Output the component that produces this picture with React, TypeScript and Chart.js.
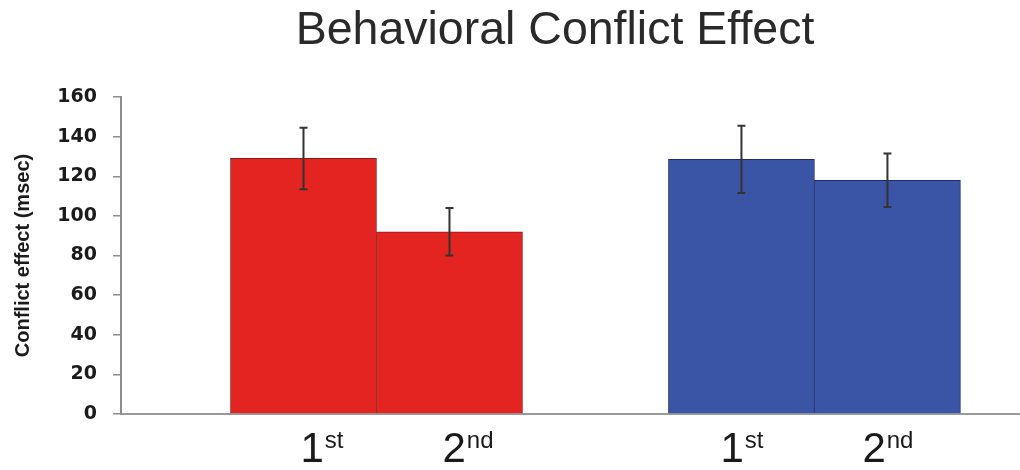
import React, { useEffect, useRef } from 'react';
import { Chart, registerables } from 'chart.js';

Chart.register(...registerables);

const chartTitle = 'Behavioral Conflict Effect';
const yAxisTitle = 'Conflict effect (msec)';
// slot of each bar along the x axis (two groups of two bars, one empty slot between)
const barSlots = [1, 2, 4, 5];
const labelMain = ['1', '2', '1', '2'];
const labelSup = ['st', 'nd', 'st', 'nd'];
const conflictValues = [129, 92, 128.5, 118];
const errorValues = [15.5, 12, 17, 13.5];
const yMin = 0;
const yMax = 160;
const yStep = 20;

const barFill = ['#E42421', '#E42421', '#3A55A5', '#3A55A5'];
const barEdge = ['#8E1A1A', '#8E1A1A', '#1E2B72', '#1E2B72'];

const errorBarPlugin = {
  id: 'errorBars',
  afterDatasetsDraw(chart: any) {
    const ctx = chart.ctx;
    const y = chart.scales.y;
    const meta = chart.getDatasetMeta(0);
    ctx.save();
    ctx.strokeStyle = '#333333';
    ctx.lineWidth = 2;
    meta.data.forEach((bar: any, i: number) => {
      const x = bar.x;
      const top = y.getPixelForValue(conflictValues[i] + errorValues[i]);
      const bottom = y.getPixelForValue(conflictValues[i] - errorValues[i]);
      ctx.beginPath();
      ctx.moveTo(x, top);
      ctx.lineTo(x, bottom);
      ctx.moveTo(x - 4, top);
      ctx.lineTo(x + 4, top);
      ctx.moveTo(x - 4, bottom);
      ctx.lineTo(x + 4, bottom);
      ctx.stroke();
    });
    ctx.restore();
  },
};

const labelNudge = [18, 18, 0, 0];

const textPlugin = {
  id: 'texts',
  afterDraw(chart: any) {
    const ctx = chart.ctx;
    const area = chart.chartArea;
    ctx.save();
    // title
    ctx.fillStyle = '#2a2a2a';
    ctx.font = '46.5px "Liberation Sans", Arial, sans-serif';
    ctx.textAlign = 'center';
    ctx.textBaseline = 'alphabetic';
    ctx.fillText(chartTitle, 555, 44);
    // x labels with superscripts
    const meta = chart.getDatasetMeta(0);
    ctx.textAlign = 'left';
    ctx.fillStyle = '#1a1a1a';
    const base = area.bottom + 48;
    meta.data.forEach((bar: any, i: number) => {
      ctx.font = '42px "Liberation Sans", Arial, sans-serif';
      const wMain = ctx.measureText(labelMain[i]).width;
      ctx.font = '24px "Liberation Sans", Arial, sans-serif';
      const wSup = ctx.measureText(labelSup[i]).width;
      const start = bar.x + labelNudge[i] - (wMain + wSup) / 2;
      ctx.font = '42px "Liberation Sans", Arial, sans-serif';
      ctx.fillText(labelMain[i], start, base);
      ctx.font = '24px "Liberation Sans", Arial, sans-serif';
      ctx.fillText(labelSup[i], start + wMain + 1, base - 14);
    });
    ctx.restore();
  },
};

export default function App() {
  const canvasRef = useRef<HTMLCanvasElement | null>(null);

  useEffect(() => {
    if (!canvasRef.current) return;
    const chart = new Chart(canvasRef.current, {
      type: 'bar',
      data: {
        datasets: [
          {
            data: barSlots.map((s, i) => ({ x: s, y: conflictValues[i] })),
            backgroundColor: barFill,
            borderColor: barEdge,
            borderWidth: 1,
            barPercentage: 1,
            categoryPercentage: 1,
          },
        ],
      },
      options: {
        responsive: false,
        animation: false,
        layout: { padding: { top: 97, bottom: 56, left: 0, right: 0 } },
        plugins: {
          legend: { display: false },
          tooltip: { enabled: false },
          title: { display: false },
        },
        scales: {
          x: {
            type: 'linear',
            min: -0.25,
            max: 5.908,
            offset: false,
            grid: { display: false },
            ticks: { display: false },
            border: { display: true, color: '#9a9a9a', width: 2 },
            afterBuildTicks: (scale: any) => {
              scale.ticks = [];
            },
            afterFit: (scale: any) => {
              scale.height = 0;
            },
          },
          y: {
            min: yMin,
            max: yMax,
            ticks: {
              stepSize: yStep,
              padding: 16,
              color: '#1b1b1b',
              font: { family: '"DejaVu Sans", sans-serif', weight: 'bold', size: 19 },
            },
            grid: {
              display: true,
              drawOnChartArea: false,
              drawTicks: true,
              tickLength: 8,
              color: '#8c8c8c',
              lineWidth: 1.5,
            },
            border: { display: true, color: '#8c8c8c', width: 2 },
            title: {
              display: true,
              text: yAxisTitle,
              color: '#1b1b1b',
              font: { family: '"Liberation Sans", Arial, sans-serif', weight: 'bold', size: 20 },
              padding: { top: 11, bottom: 0 },
            },
            afterFit: (scale: any) => {
              scale.width = 121;
            },
          },
        },
      },
      plugins: [errorBarPlugin, textPlugin],
    } as any);
    return () => chart.destroy();
  }, []);

  return (
    <div style={{ position: 'absolute', left: 0, top: 0, width: 1020, height: 470, background: '#fff' }}>
      <canvas ref={canvasRef} width={1020} height={470} />
    </div>
  );
}
